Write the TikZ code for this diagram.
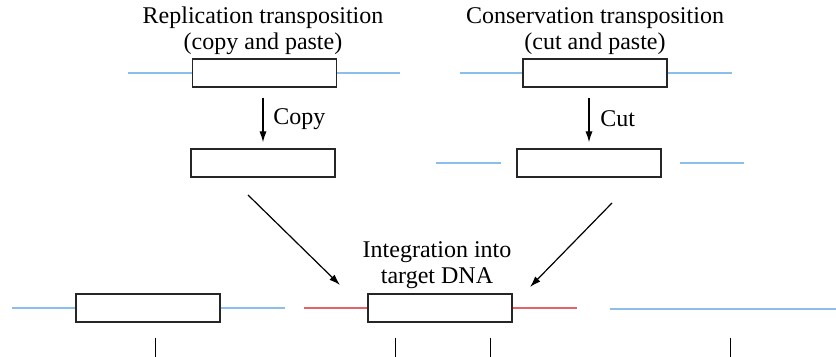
\documentclass[tikz,border=0pt]{standalone}
\usepackage{fontspec}
\setmainfont{Liberation Serif}
\usepackage{xcolor}
\usetikzlibrary{positioning,calc,arrows.meta}

\definecolor{hostblue}{RGB}{140,190,235}
\definecolor{targetred}{RGB}{228,98,104}

\tikzset{
    element/.style={draw=black!85, line width=0.7pt, minimum width=72pt, minimum height=14pt, inner sep=0pt},
    hostdna/.style={hostblue, line width=0.7pt},
    targetdna/.style={targetred, line width=0.7pt},
    flow/.style={-{Latex[length=5.5pt,width=3.6pt]}, line width=0.6pt},
    txt/.style={font=\fontsize{12}{13}\selectfont, align=center, inner sep=0pt}
}

\begin{document}
\begin{tikzpicture}[x=0.5pt, y=-0.5pt]
        \useasboundingbox (0,0) rectangle (836,357);

        % Replication (left)
        \begin{scope}
            \node[txt] (reptitle) at (263,31) {Replication transposition\\(copy and paste)};
            \node[element] (rep) at (264.5,73) {};
            \draw[hostdna] (128,73) -- (rep.west); \draw[hostdna] (rep.east) -- (400,73);
            \node[element] (repfree) at (263,163) {};
            \draw[flow, shorten <=5pt, shorten >=3pt] (repfree.north |- rep.south) -- (repfree.north);
            \node[txt, right] (copytxt) at (273,119) {Copy};
        \end{scope}

        % Conservation (right)
        \begin{scope}
            \node[txt] (contitle) at (595,31) {Conservation transposition\\(cut and paste)};
            \node[element] (con) at (595,73) {};
            \draw[hostdna] (460,73) -- (con.west); \draw[hostdna] (con.east) -- (732,73);
            \node[element] (confree) at (589,163) {};
            \draw[hostdna] (436,163) -- (501,163); \draw[hostdna] (680,163) -- (744,163);
            \draw[flow, shorten <=5pt, shorten >=3pt] (confree.north |- con.south) -- (confree.north);
            \node[txt, right] (cuttxt) at (600,119) {Cut};
        \end{scope}

        % Integration
        \node[txt] (integ) at (437,265) {Integration into\\target DNA};
        \coordinate (repstart) at (248,195); \coordinate (repend) at (340,285);
        \coordinate (constart) at (612,203); \coordinate (conend) at (530,287);
        \draw[flow] (repstart) -- (repend);
        \draw[flow] (constart) -- (conend);

        % Bottom row
        \node[element] (donor) at (148,308) {};
        \draw[hostdna] (12,308) -- (donor.west); \draw[hostdna] (donor.east) -- (285,308);
        \node[element] (target) at (440,308) {};
        \draw[targetdna] (304,308) -- (target.west); \draw[targetdna] (target.east) -- (577,308);
        \draw[hostdna] (610,309) -- (836,309);
        \foreach \x in {155,395,490,730}
            \draw[line width=0.5pt] (\x,338) -- (\x,357);
    \end{tikzpicture}
\end{document}
